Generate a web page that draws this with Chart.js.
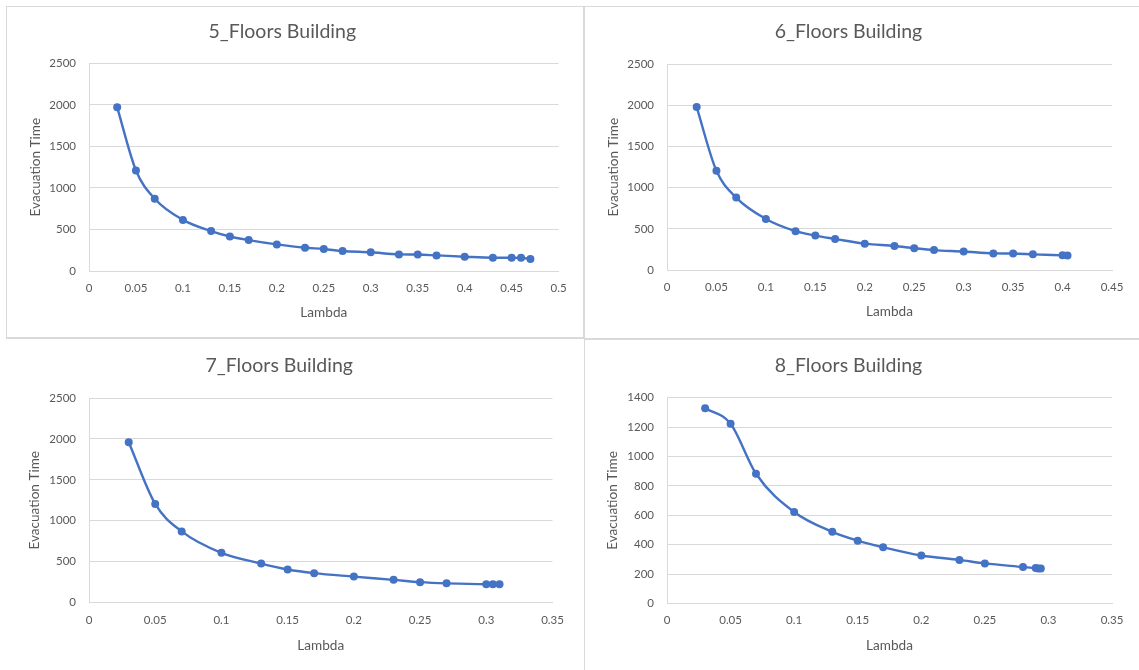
<!DOCTYPE html>
<html>
<head>
<meta charset="utf-8">
<script src="https://cdn.jsdelivr.net/npm/chart.js@4.4.1/dist/chart.umd.min.js"></script>
<style>
  html, body { margin: 0; padding: 0; background: #ffffff; }
  body { width: 1139px; height: 670px; position: relative; overflow: hidden; }
  .panel { position: absolute; }
  .panel canvas { display: block; }
  .frame { position: absolute; box-sizing: border-box; border: 0 solid #d9d9d9; pointer-events: none; }
</style>
</head>
<body>
<div class="frame" style="left:6px;top:6px;width:578px;height:333px;border-width:1px 1px 2px 1px;"></div>
<div class="frame" style="left:584px;top:6px;width:560px;height:333px;border-width:1px 0 1px 1px;"></div>
<div class="frame" style="left:584px;top:339px;width:560px;height:340px;border-width:1px 0 0 1px;"></div>

<div class="panel" style="left:6px;top:6px;"><canvas id="c5" width="577" height="332"></canvas></div>
<div class="panel" style="left:585px;top:6px;"><canvas id="c6" width="554" height="332"></canvas></div>
<div class="panel" style="left:6px;top:339px;"><canvas id="c7" width="577" height="331"></canvas></div>
<div class="panel" style="left:585px;top:339px;"><canvas id="c8" width="554" height="331"></canvas></div>

<script>
// Evacuation time against lambda, one series per building height
const lambda5 = [0.03, 0.05, 0.07, 0.1, 0.13, 0.15, 0.17, 0.2, 0.23, 0.25, 0.27, 0.3, 0.33, 0.35, 0.37, 0.4, 0.43, 0.45, 0.46, 0.47];
const time5   = [1970, 1210, 870, 615, 480, 415, 372, 320, 280, 265, 240, 225, 200, 198, 188, 172, 160, 160, 158, 145];

const lambda6 = [0.03, 0.05, 0.07, 0.1, 0.13, 0.15, 0.17, 0.2, 0.23, 0.25, 0.27, 0.3, 0.33, 0.35, 0.37, 0.4, 0.405];
const time6   = [1980, 1205, 880, 620, 472, 418, 378, 320, 292, 265, 242, 225, 202, 200, 190, 178, 176];

const lambda7 = [0.03, 0.05, 0.07, 0.1, 0.13, 0.15, 0.17, 0.2, 0.23, 0.25, 0.27, 0.3, 0.305, 0.31];
const time7   = [1960, 1205, 870, 608, 477, 405, 360, 318, 278, 250, 235, 225, 225, 225];

const lambda8 = [0.03, 0.05, 0.07, 0.1, 0.13, 0.15, 0.17, 0.2, 0.23, 0.25, 0.28, 0.29, 0.292, 0.294];
const time8   = [1327, 1222, 882, 622, 487, 427, 382, 326, 296, 272, 248, 240, 238, 238];

// Axis tick values
const xTicks5 = [0, 0.05, 0.1, 0.15, 0.2, 0.25, 0.3, 0.35, 0.4, 0.45, 0.5];
const xTicks6 = [0, 0.05, 0.1, 0.15, 0.2, 0.25, 0.3, 0.35, 0.4, 0.45];
const xTicks7 = [0, 0.05, 0.1, 0.15, 0.2, 0.25, 0.3, 0.35];
const xTicks8 = [0, 0.05, 0.1, 0.15, 0.2, 0.25, 0.3, 0.35];
const yTicksTime = [0, 500, 1000, 1500, 2000, 2500];
const yTicks8 = [0, 200, 400, 600, 800, 1000, 1200, 1400];

const titles = ['5_Floors Building', '6_Floors Building', '7_Floors Building', '8_Floors Building'];
const xAxisTitle = 'Lambda';
const yAxisTitle = 'Evacuation Time';

const FONT = 'Lato, "Open Sans", "Liberation Sans", sans-serif';
const TEXT = '#595959';
const GRID = '#d9d9d9';
const BLUE = '#4472c4';
const TITLE_SIZE = 19.5;
const AXIS_TITLE_SIZE = 13.6;

Chart.defaults.font.family = FONT;
Chart.defaults.color = TEXT;

function fmt(v) {
  return String(+Number(v).toFixed(2));
}

// Builds one scatter-with-smooth-line chart; geometry values are in canvas pixels
function makeChart(id, title, xs, ys, xTicks, yTicks, g) {
  const canvas = document.getElementById(id);
  const W = canvas.width, H = canvas.height;
  const titleLH = TITLE_SIZE * 1.2;
  const titlePadTop = g.titleY - titleLH / 2;
  const titlePadBottom = g.top - titlePadTop - titleLH;
  const axisTitleLH = AXIS_TITLE_SIZE * 1.2;
  const xTitlePadBottom = 4;
  const xAxisHeight = g.xTitleOff + axisTitleLH / 2 + xTitlePadBottom;
  const points = xs.map((x, i) => ({ x: x, y: ys[i] }));

  return new Chart(canvas, {
    type: 'scatter',
    data: {
      datasets: [{
        data: points,
        showLine: true,
        borderColor: BLUE,
        backgroundColor: BLUE,
        borderWidth: 2.4,
        pointRadius: 4,
        pointBorderWidth: 0,
        pointBackgroundColor: BLUE,
        cubicInterpolationMode: 'monotone',
        clip: false
      }]
    },
    options: {
      responsive: false,
      animation: false,
      events: [],
      layout: {
        padding: { left: 0, top: 0, right: W - g.right, bottom: H - g.bottom - xAxisHeight }
      },
      plugins: {
        legend: { display: false },
        tooltip: { enabled: false },
        title: {
          display: true,
          text: title,
          color: TEXT,
          font: { size: TITLE_SIZE, weight: 'normal', lineHeight: 1.2 },
          padding: { top: titlePadTop, bottom: titlePadBottom }
        }
      },
      scales: {
        x: {
          type: 'linear',
          min: xTicks[0],
          max: xTicks[xTicks.length - 1],
          afterBuildTicks: s => { s.ticks = xTicks.map(v => ({ value: v })); },
          afterFit: s => { s.height = xAxisHeight; },
          grid: { display: false, drawTicks: false },
          border: { display: true, color: GRID, width: 1 },
          ticks: { color: TEXT, font: { size: 11.5 }, padding: g.xLabelPad, maxRotation: 0, autoSkip: false, callback: fmt },
          title: {
            display: true, text: xAxisTitle, color: TEXT,
            font: { size: AXIS_TITLE_SIZE, lineHeight: 1.2 },
            padding: { top: 0, bottom: xTitlePadBottom }
          }
        },
        y: {
          type: 'linear',
          min: yTicks[0],
          max: yTicks[yTicks.length - 1],
          afterBuildTicks: s => { s.ticks = yTicks.map(v => ({ value: v })); },
          afterFit: s => { s.width = g.left; },
          grid: { display: true, color: GRID, lineWidth: 1, drawTicks: false },
          border: { display: true, color: GRID, width: 1 },
          ticks: { color: TEXT, font: { size: 11.5 }, padding: 13, autoSkip: false, callback: v => String(v) },
          title: {
            display: true, text: yAxisTitle, color: TEXT,
            font: { size: AXIS_TITLE_SIZE, lineHeight: 1.2 },
            padding: { top: g.yTitleX - axisTitleLH / 2, bottom: 0 }
          }
        }
      }
    }
  });
}

makeChart('c5', titles[0], lambda5, time5, xTicks5, yTicksTime,
  { left: 83, right: 552.6, top: 57.3, bottom: 265, titleY: 26, xLabelPad: 10, xTitleOff: 41.3, yTitleX: 29.5 });
makeChart('c6', titles[1], lambda6, time6, xTicks6, yTicksTime,
  { left: 82, right: 527, top: 58.3, bottom: 264, titleY: 26, xLabelPad: 10, xTitleOff: 41.7, yTitleX: 29 });
makeChart('c7', titles[2], lambda7, time7, xTicks7, yTicksTime,
  { left: 83, right: 546.5, top: 59, bottom: 263.6, titleY: 26.7, xLabelPad: 11, xTitleOff: 43, yTitleX: 29 });
makeChart('c8', titles[3], lambda8, time8, xTicks8, yTicks8,
  { left: 82, right: 527, top: 58.6, bottom: 264.4, titleY: 26.7, xLabelPad: 10, xTitleOff: 42.3, yTitleX: 28 });
</script>
</body>
</html>
